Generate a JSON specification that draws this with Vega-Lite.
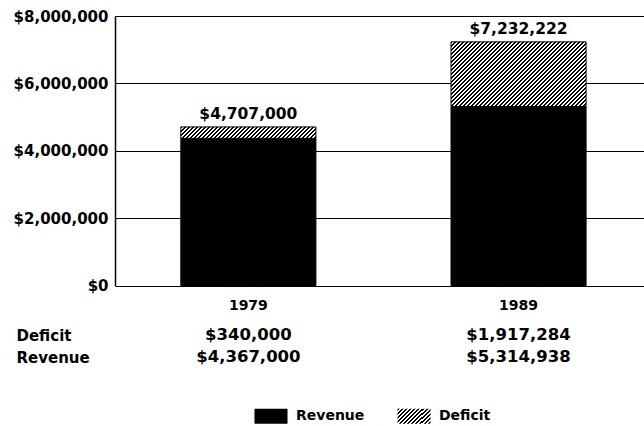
{
  "$schema": "https://vega.github.io/schema/vega-lite/v6.json",
  "width": 529,
  "height": 269.5,
  "autosize": {"type": "none"},
  "padding": {"left": 115, "top": 16, "right": 0, "bottom": 140.5},
  "background": "#ffffff",
  "config": {
    "view": {"stroke": null},
    "font": "DejaVu Sans",
    "axis": {"labelFont": "DejaVu Sans", "labelFontWeight": "bold", "labelColor": "#000"}
  },
  "datasets": {
    "bars": [
      {"year": "1979", "type": "Revenue", "amount": 4367000},
      {"year": "1979", "type": "Deficit", "amount": 340000},
      {"year": "1989", "type": "Revenue", "amount": 5314938},
      {"year": "1989", "type": "Deficit", "amount": 1917284}
    ],
    "totals": [
      {"year": "1979", "total": 4707000},
      {"year": "1989", "total": 7232222}
    ]
  },
  "layer": [
    {
      "layer": [
        {
          "data": {"name": "bars"},
          "mark": {"type": "bar", "stroke": "#000", "strokeWidth": 1},
          "encoding": {
            "x": {
              "field": "year", "type": "nominal",
              "scale": {"paddingInner": 0.5, "paddingOuter": 0.229, "align": 0.532},
              "axis": {"title": null, "domain": false, "ticks": false, "labelPadding": 13, "labelFontSize": 14, "labelAngle": 0}
            },
            "y": {
              "field": "amount", "type": "quantitative", "stack": "zero",
              "scale": {"domain": [0, 8000000], "nice": false},
              "axis": {"title": null, "values": [0, 2000000, 4000000, 6000000, 8000000], "format": "$,.0f", "grid": true, "gridColor": "#000", "gridOpacity": 1, "gridWidth": 1, "domain": true, "domainColor": "#000", "domainWidth": 1.5, "ticks": false, "labelPadding": 7, "labelFontSize": 15}
            },
            "detail": {"field": "type"},
            "order": {"field": "type", "sort": "descending"},
            "fill": {
              "condition": [
                {"test": "datum.type === 'Deficit' && datum.year === '1979'", "value": {"gradient": "linear", "x1": 0, "y1": 0, "x2": 1.177, "y2": 0.0985, "stops": [
{"offset":0,"color":"#000"},{"offset":0.0125,"color":"#000"},{"offset":0.0125,"color":"#fff"},{"offset":0.025,"color":"#fff"},
{"offset":0.025,"color":"#000"},{"offset":0.0375,"color":"#000"},{"offset":0.0375,"color":"#fff"},{"offset":0.05,"color":"#fff"},
{"offset":0.05,"color":"#000"},{"offset":0.0625,"color":"#000"},{"offset":0.0625,"color":"#fff"},{"offset":0.075,"color":"#fff"},
{"offset":0.075,"color":"#000"},{"offset":0.0875,"color":"#000"},{"offset":0.0875,"color":"#fff"},{"offset":0.1,"color":"#fff"},
{"offset":0.1,"color":"#000"},{"offset":0.1125,"color":"#000"},{"offset":0.1125,"color":"#fff"},{"offset":0.125,"color":"#fff"},
{"offset":0.125,"color":"#000"},{"offset":0.1375,"color":"#000"},{"offset":0.1375,"color":"#fff"},{"offset":0.15,"color":"#fff"},
{"offset":0.15,"color":"#000"},{"offset":0.1625,"color":"#000"},{"offset":0.1625,"color":"#fff"},{"offset":0.175,"color":"#fff"},
{"offset":0.175,"color":"#000"},{"offset":0.1875,"color":"#000"},{"offset":0.1875,"color":"#fff"},{"offset":0.2,"color":"#fff"},
{"offset":0.2,"color":"#000"},{"offset":0.2125,"color":"#000"},{"offset":0.2125,"color":"#fff"},{"offset":0.225,"color":"#fff"},
{"offset":0.225,"color":"#000"},{"offset":0.2375,"color":"#000"},{"offset":0.2375,"color":"#fff"},{"offset":0.25,"color":"#fff"},
{"offset":0.25,"color":"#000"},{"offset":0.2625,"color":"#000"},{"offset":0.2625,"color":"#fff"},{"offset":0.275,"color":"#fff"},
{"offset":0.275,"color":"#000"},{"offset":0.2875,"color":"#000"},{"offset":0.2875,"color":"#fff"},{"offset":0.3,"color":"#fff"},
{"offset":0.3,"color":"#000"},{"offset":0.3125,"color":"#000"},{"offset":0.3125,"color":"#fff"},{"offset":0.325,"color":"#fff"},
{"offset":0.325,"color":"#000"},{"offset":0.3375,"color":"#000"},{"offset":0.3375,"color":"#fff"},{"offset":0.35,"color":"#fff"},
{"offset":0.35,"color":"#000"},{"offset":0.3625,"color":"#000"},{"offset":0.3625,"color":"#fff"},{"offset":0.375,"color":"#fff"},
{"offset":0.375,"color":"#000"},{"offset":0.3875,"color":"#000"},{"offset":0.3875,"color":"#fff"},{"offset":0.4,"color":"#fff"},
{"offset":0.4,"color":"#000"},{"offset":0.4125,"color":"#000"},{"offset":0.4125,"color":"#fff"},{"offset":0.425,"color":"#fff"},
{"offset":0.425,"color":"#000"},{"offset":0.4375,"color":"#000"},{"offset":0.4375,"color":"#fff"},{"offset":0.45,"color":"#fff"},
{"offset":0.45,"color":"#000"},{"offset":0.4625,"color":"#000"},{"offset":0.4625,"color":"#fff"},{"offset":0.475,"color":"#fff"},
{"offset":0.475,"color":"#000"},{"offset":0.4875,"color":"#000"},{"offset":0.4875,"color":"#fff"},{"offset":0.5,"color":"#fff"},
{"offset":0.5,"color":"#000"},{"offset":0.5125,"color":"#000"},{"offset":0.5125,"color":"#fff"},{"offset":0.525,"color":"#fff"},
{"offset":0.525,"color":"#000"},{"offset":0.5375,"color":"#000"},{"offset":0.5375,"color":"#fff"},{"offset":0.55,"color":"#fff"},
{"offset":0.55,"color":"#000"},{"offset":0.5625,"color":"#000"},{"offset":0.5625,"color":"#fff"},{"offset":0.575,"color":"#fff"},
{"offset":0.575,"color":"#000"},{"offset":0.5875,"color":"#000"},{"offset":0.5875,"color":"#fff"},{"offset":0.6,"color":"#fff"},
{"offset":0.6,"color":"#000"},{"offset":0.6125,"color":"#000"},{"offset":0.6125,"color":"#fff"},{"offset":0.625,"color":"#fff"},
{"offset":0.625,"color":"#000"},{"offset":0.6375,"color":"#000"},{"offset":0.6375,"color":"#fff"},{"offset":0.65,"color":"#fff"},
{"offset":0.65,"color":"#000"},{"offset":0.6625,"color":"#000"},{"offset":0.6625,"color":"#fff"},{"offset":0.675,"color":"#fff"},
{"offset":0.675,"color":"#000"},{"offset":0.6875,"color":"#000"},{"offset":0.6875,"color":"#fff"},{"offset":0.7,"color":"#fff"},
{"offset":0.7,"color":"#000"},{"offset":0.7125,"color":"#000"},{"offset":0.7125,"color":"#fff"},{"offset":0.725,"color":"#fff"},
{"offset":0.725,"color":"#000"},{"offset":0.7375,"color":"#000"},{"offset":0.7375,"color":"#fff"},{"offset":0.75,"color":"#fff"},
{"offset":0.75,"color":"#000"},{"offset":0.7625,"color":"#000"},{"offset":0.7625,"color":"#fff"},{"offset":0.775,"color":"#fff"},
{"offset":0.775,"color":"#000"},{"offset":0.7875,"color":"#000"},{"offset":0.7875,"color":"#fff"},{"offset":0.8,"color":"#fff"},
{"offset":0.8,"color":"#000"},{"offset":0.8125,"color":"#000"},{"offset":0.8125,"color":"#fff"},{"offset":0.825,"color":"#fff"},
{"offset":0.825,"color":"#000"},{"offset":0.8375,"color":"#000"},{"offset":0.8375,"color":"#fff"},{"offset":0.85,"color":"#fff"},
{"offset":0.85,"color":"#000"},{"offset":0.8625,"color":"#000"},{"offset":0.8625,"color":"#fff"},{"offset":0.875,"color":"#fff"},
{"offset":0.875,"color":"#000"},{"offset":0.8875,"color":"#000"},{"offset":0.8875,"color":"#fff"},{"offset":0.9,"color":"#fff"},
{"offset":0.9,"color":"#000"},{"offset":0.9125,"color":"#000"},{"offset":0.9125,"color":"#fff"},{"offset":0.925,"color":"#fff"},
{"offset":0.925,"color":"#000"},{"offset":0.9375,"color":"#000"},{"offset":0.9375,"color":"#fff"},{"offset":0.95,"color":"#fff"},
{"offset":0.95,"color":"#000"},{"offset":0.9625,"color":"#000"},{"offset":0.9625,"color":"#fff"},{"offset":0.975,"color":"#fff"},
{"offset":0.975,"color":"#000"},{"offset":0.9875,"color":"#000"},{"offset":0.9875,"color":"#fff"},{"offset":1,"color":"#fff"}
                ]}},
                {"test": "datum.type === 'Deficit' && datum.year === '1989'", "value": {"gradient": "linear", "x1": 0, "y1": 0, "x2": 1.2056, "y2": 0.5769, "stops": [
{"offset":0,"color":"#000"},{"offset":0.01,"color":"#000"},{"offset":0.01,"color":"#fff"},{"offset":0.02,"color":"#fff"},
{"offset":0.02,"color":"#000"},{"offset":0.03,"color":"#000"},{"offset":0.03,"color":"#fff"},{"offset":0.04,"color":"#fff"},
{"offset":0.04,"color":"#000"},{"offset":0.05,"color":"#000"},{"offset":0.05,"color":"#fff"},{"offset":0.06,"color":"#fff"},
{"offset":0.06,"color":"#000"},{"offset":0.07,"color":"#000"},{"offset":0.07,"color":"#fff"},{"offset":0.08,"color":"#fff"},
{"offset":0.08,"color":"#000"},{"offset":0.09,"color":"#000"},{"offset":0.09,"color":"#fff"},{"offset":0.1,"color":"#fff"},
{"offset":0.1,"color":"#000"},{"offset":0.11,"color":"#000"},{"offset":0.11,"color":"#fff"},{"offset":0.12,"color":"#fff"},
{"offset":0.12,"color":"#000"},{"offset":0.13,"color":"#000"},{"offset":0.13,"color":"#fff"},{"offset":0.14,"color":"#fff"},
{"offset":0.14,"color":"#000"},{"offset":0.15,"color":"#000"},{"offset":0.15,"color":"#fff"},{"offset":0.16,"color":"#fff"},
{"offset":0.16,"color":"#000"},{"offset":0.17,"color":"#000"},{"offset":0.17,"color":"#fff"},{"offset":0.18,"color":"#fff"},
{"offset":0.18,"color":"#000"},{"offset":0.19,"color":"#000"},{"offset":0.19,"color":"#fff"},{"offset":0.2,"color":"#fff"},
{"offset":0.2,"color":"#000"},{"offset":0.21,"color":"#000"},{"offset":0.21,"color":"#fff"},{"offset":0.22,"color":"#fff"},
{"offset":0.22,"color":"#000"},{"offset":0.23,"color":"#000"},{"offset":0.23,"color":"#fff"},{"offset":0.24,"color":"#fff"},
{"offset":0.24,"color":"#000"},{"offset":0.25,"color":"#000"},{"offset":0.25,"color":"#fff"},{"offset":0.26,"color":"#fff"},
{"offset":0.26,"color":"#000"},{"offset":0.27,"color":"#000"},{"offset":0.27,"color":"#fff"},{"offset":0.28,"color":"#fff"},
{"offset":0.28,"color":"#000"},{"offset":0.29,"color":"#000"},{"offset":0.29,"color":"#fff"},{"offset":0.3,"color":"#fff"},
{"offset":0.3,"color":"#000"},{"offset":0.31,"color":"#000"},{"offset":0.31,"color":"#fff"},{"offset":0.32,"color":"#fff"},
{"offset":0.32,"color":"#000"},{"offset":0.33,"color":"#000"},{"offset":0.33,"color":"#fff"},{"offset":0.34,"color":"#fff"},
{"offset":0.34,"color":"#000"},{"offset":0.35,"color":"#000"},{"offset":0.35,"color":"#fff"},{"offset":0.36,"color":"#fff"},
{"offset":0.36,"color":"#000"},{"offset":0.37,"color":"#000"},{"offset":0.37,"color":"#fff"},{"offset":0.38,"color":"#fff"},
{"offset":0.38,"color":"#000"},{"offset":0.39,"color":"#000"},{"offset":0.39,"color":"#fff"},{"offset":0.4,"color":"#fff"},
{"offset":0.4,"color":"#000"},{"offset":0.41,"color":"#000"},{"offset":0.41,"color":"#fff"},{"offset":0.42,"color":"#fff"},
{"offset":0.42,"color":"#000"},{"offset":0.43,"color":"#000"},{"offset":0.43,"color":"#fff"},{"offset":0.44,"color":"#fff"},
{"offset":0.44,"color":"#000"},{"offset":0.45,"color":"#000"},{"offset":0.45,"color":"#fff"},{"offset":0.46,"color":"#fff"},
{"offset":0.46,"color":"#000"},{"offset":0.47,"color":"#000"},{"offset":0.47,"color":"#fff"},{"offset":0.48,"color":"#fff"},
{"offset":0.48,"color":"#000"},{"offset":0.49,"color":"#000"},{"offset":0.49,"color":"#fff"},{"offset":0.5,"color":"#fff"},
{"offset":0.5,"color":"#000"},{"offset":0.51,"color":"#000"},{"offset":0.51,"color":"#fff"},{"offset":0.52,"color":"#fff"},
{"offset":0.52,"color":"#000"},{"offset":0.53,"color":"#000"},{"offset":0.53,"color":"#fff"},{"offset":0.54,"color":"#fff"},
{"offset":0.54,"color":"#000"},{"offset":0.55,"color":"#000"},{"offset":0.55,"color":"#fff"},{"offset":0.56,"color":"#fff"},
{"offset":0.56,"color":"#000"},{"offset":0.57,"color":"#000"},{"offset":0.57,"color":"#fff"},{"offset":0.58,"color":"#fff"},
{"offset":0.58,"color":"#000"},{"offset":0.59,"color":"#000"},{"offset":0.59,"color":"#fff"},{"offset":0.6,"color":"#fff"},
{"offset":0.6,"color":"#000"},{"offset":0.61,"color":"#000"},{"offset":0.61,"color":"#fff"},{"offset":0.62,"color":"#fff"},
{"offset":0.62,"color":"#000"},{"offset":0.63,"color":"#000"},{"offset":0.63,"color":"#fff"},{"offset":0.64,"color":"#fff"},
{"offset":0.64,"color":"#000"},{"offset":0.65,"color":"#000"},{"offset":0.65,"color":"#fff"},{"offset":0.66,"color":"#fff"},
{"offset":0.66,"color":"#000"},{"offset":0.67,"color":"#000"},{"offset":0.67,"color":"#fff"},{"offset":0.68,"color":"#fff"},
{"offset":0.68,"color":"#000"},{"offset":0.69,"color":"#000"},{"offset":0.69,"color":"#fff"},{"offset":0.7,"color":"#fff"},
{"offset":0.7,"color":"#000"},{"offset":0.71,"color":"#000"},{"offset":0.71,"color":"#fff"},{"offset":0.72,"color":"#fff"},
{"offset":0.72,"color":"#000"},{"offset":0.73,"color":"#000"},{"offset":0.73,"color":"#fff"},{"offset":0.74,"color":"#fff"},
{"offset":0.74,"color":"#000"},{"offset":0.75,"color":"#000"},{"offset":0.75,"color":"#fff"},{"offset":0.76,"color":"#fff"},
{"offset":0.76,"color":"#000"},{"offset":0.77,"color":"#000"},{"offset":0.77,"color":"#fff"},{"offset":0.78,"color":"#fff"},
{"offset":0.78,"color":"#000"},{"offset":0.79,"color":"#000"},{"offset":0.79,"color":"#fff"},{"offset":0.8,"color":"#fff"},
{"offset":0.8,"color":"#000"},{"offset":0.81,"color":"#000"},{"offset":0.81,"color":"#fff"},{"offset":0.82,"color":"#fff"},
{"offset":0.82,"color":"#000"},{"offset":0.83,"color":"#000"},{"offset":0.83,"color":"#fff"},{"offset":0.84,"color":"#fff"},
{"offset":0.84,"color":"#000"},{"offset":0.85,"color":"#000"},{"offset":0.85,"color":"#fff"},{"offset":0.86,"color":"#fff"},
{"offset":0.86,"color":"#000"},{"offset":0.87,"color":"#000"},{"offset":0.87,"color":"#fff"},{"offset":0.88,"color":"#fff"},
{"offset":0.88,"color":"#000"},{"offset":0.89,"color":"#000"},{"offset":0.89,"color":"#fff"},{"offset":0.9,"color":"#fff"},
{"offset":0.9,"color":"#000"},{"offset":0.91,"color":"#000"},{"offset":0.91,"color":"#fff"},{"offset":0.92,"color":"#fff"},
{"offset":0.92,"color":"#000"},{"offset":0.93,"color":"#000"},{"offset":0.93,"color":"#fff"},{"offset":0.94,"color":"#fff"},
{"offset":0.94,"color":"#000"},{"offset":0.95,"color":"#000"},{"offset":0.95,"color":"#fff"},{"offset":0.96,"color":"#fff"},
{"offset":0.96,"color":"#000"},{"offset":0.97,"color":"#000"},{"offset":0.97,"color":"#fff"},{"offset":0.98,"color":"#fff"},
{"offset":0.98,"color":"#000"},{"offset":0.99,"color":"#000"},{"offset":0.99,"color":"#fff"},{"offset":1,"color":"#fff"}
                ]}}
              ],
              "value": "#000"
            }
          }
        },
        {
          "data": {"name": "totals"},
          "mark": {"type": "text", "baseline": "alphabetic", "dy": -8, "fontSize": 15.5, "fontWeight": "bold", "font": "DejaVu Sans", "color": "#000"},
          "encoding": {
            "x": {"field": "year", "type": "nominal", "axis": {"title": null}},
            "y": {"field": "total", "type": "quantitative", "axis": {"title": null}},
            "text": {"field": "total", "type": "quantitative", "format": "$,.0f"}
          }
        }
      ]
    },
    {
      "data": {"name": "bars"},
      "mark": {"type": "text", "baseline": "middle", "fontSize": 16.5, "fontWeight": "bold", "font": "DejaVu Sans", "color": "#000"},
      "encoding": {
        "x": {"field": "year", "type": "nominal", "axis": {"title": null}},
        "y": {
          "field": "type", "type": "nominal",
          "scale": {"type": "point", "domain": ["Deficit", "Revenue"], "range": [319, 341], "padding": 0},
          "axis": {"title": null, "orient": "left", "domain": false, "ticks": false, "grid": false, "labelAlign": "left", "labelBaseline": "middle", "labelPadding": 99, "labelFontSize": 15}
        },
        "text": {"field": "amount", "type": "quantitative", "format": "$,.0f"}
      }
    },
    {
      "data": {"name": "bars"},
      "mark": {"type": "point", "opacity": 0, "filled": true},
      "encoding": {
        "shape": {
          "field": "type", "type": "nominal",
          "scale": {"domain": ["Revenue", "Deficit"], "range": ["M-1,-0.4545H1V0.4545H-1Z", "M-1,-0.4545H1V0.4545H-1Z"]},
          "legend": {
            "title": null, "orient": "none", "legendX": 139, "legendY": 383, "direction": "horizontal",
            "symbolSize": 1089, "symbolStrokeColor": "#000", "symbolStrokeWidth": 1, "symbolOpacity": 1,
            "labelFont": "DejaVu Sans", "labelFontSize": 14, "labelFontWeight": "bold", "labelColor": "#000",
            "labelOffset": 8, "columnPadding": 30,
            "encoding": {"symbols": {"fill": {"value": {"expr": "datum.label === 'Deficit' ? {gradient: 'linear', x1: 0, y1: 0, x2: 1.23, y2: 0.5765, stops: [{offset: 0, color: '#000'}, {offset: 0.0417, color: '#000'}, {offset: 0.0417, color: '#fff'}, {offset: 0.0833, color: '#fff'}, {offset: 0.0833, color: '#000'}, {offset: 0.125, color: '#000'}, {offset: 0.125, color: '#fff'}, {offset: 0.1667, color: '#fff'}, {offset: 0.1667, color: '#000'}, {offset: 0.2083, color: '#000'}, {offset: 0.2083, color: '#fff'}, {offset: 0.25, color: '#fff'}, {offset: 0.25, color: '#000'}, {offset: 0.2917, color: '#000'}, {offset: 0.2917, color: '#fff'}, {offset: 0.3333, color: '#fff'}, {offset: 0.3333, color: '#000'}, {offset: 0.375, color: '#000'}, {offset: 0.375, color: '#fff'}, {offset: 0.4167, color: '#fff'}, {offset: 0.4167, color: '#000'}, {offset: 0.4583, color: '#000'}, {offset: 0.4583, color: '#fff'}, {offset: 0.5, color: '#fff'}, {offset: 0.5, color: '#000'}, {offset: 0.5417, color: '#000'}, {offset: 0.5417, color: '#fff'}, {offset: 0.5833, color: '#fff'}, {offset: 0.5833, color: '#000'}, {offset: 0.625, color: '#000'}, {offset: 0.625, color: '#fff'}, {offset: 0.6667, color: '#fff'}, {offset: 0.6667, color: '#000'}, {offset: 0.7083, color: '#000'}, {offset: 0.7083, color: '#fff'}, {offset: 0.75, color: '#fff'}, {offset: 0.75, color: '#000'}, {offset: 0.7917, color: '#000'}, {offset: 0.7917, color: '#fff'}, {offset: 0.8333, color: '#fff'}, {offset: 0.8333, color: '#000'}, {offset: 0.875, color: '#000'}, {offset: 0.875, color: '#fff'}, {offset: 0.9167, color: '#fff'}, {offset: 0.9167, color: '#000'}, {offset: 0.9583, color: '#000'}, {offset: 0.9583, color: '#fff'}, {offset: 1, color: '#fff'}]} : '#000'"}}}}
          }
        }
      }
    }
  ],
  "resolve": {"scale": {"y": "independent"}, "axis": {"y": "independent"}}
}
